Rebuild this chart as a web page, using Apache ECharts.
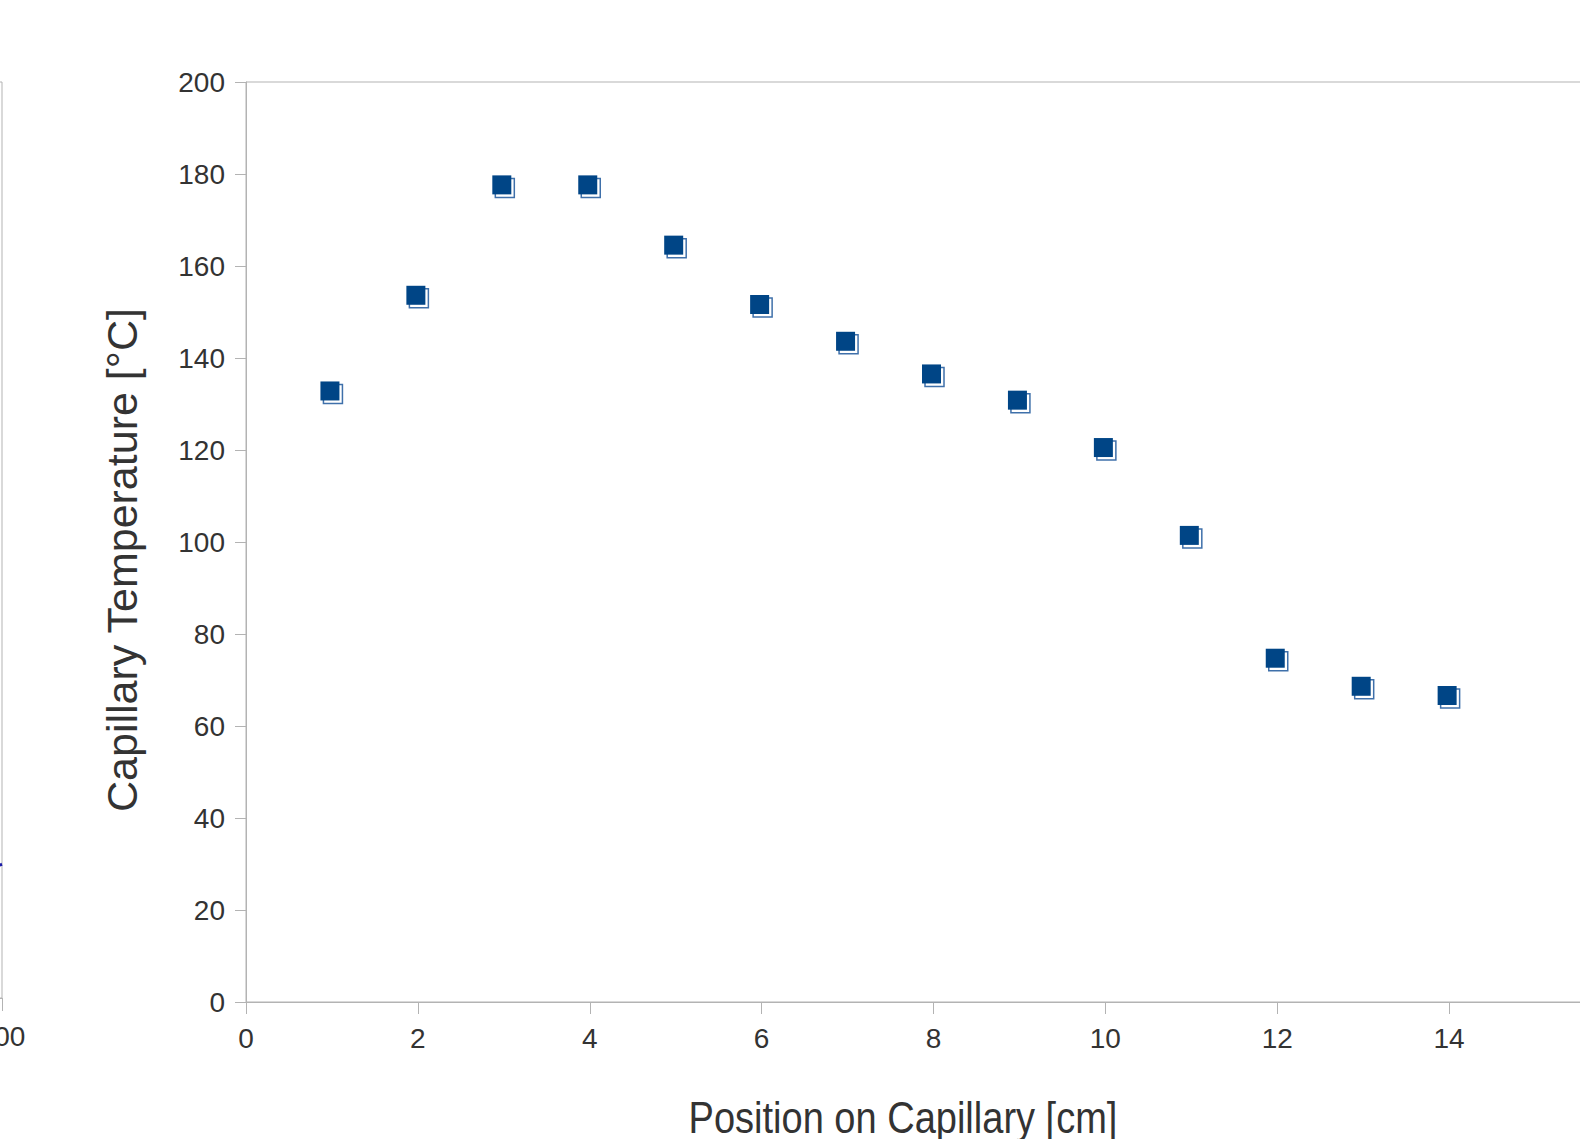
<!DOCTYPE html>
<html>
<head>
<meta charset="utf-8">
<script src="https://cdn.jsdelivr.net/npm/echarts@6/dist/echarts.min.js"></script>
<style>
  html, body { margin: 0; padding: 0; background: #ffffff; overflow: hidden; width: 1580px; height: 1139px; position: relative; }
  /* the chart canvas is wider than the window: the reference plot runs past the right edge
     and a neighbouring chart is cut at the left edge */
  #chart { position: absolute; left: -600px; top: 0; width: 2300px; height: 1139px; }
</style>
</head>
<body>
<div id="chart"></div>
<script>
// ---- data ----
const positions = [1, 2, 3, 4, 5, 6, 7, 8, 9, 10, 11, 12, 13, 14];
const temperatures = [132.4, 153.2, 177.2, 177.2, 164.1, 151.2, 143.2, 136.1, 130.4, 120.1, 101.0, 74.3, 68.2, 66.2];
const xTitle = 'Position on Capillary [cm]';
const yTitle = 'Capillary Temperature [°C]';
// fragment of the neighbouring chart visible at the left edge
const leftTraceX = [196, 200];
const leftTraceY = [28.4, 29.2];

const points = positions.map((x, i) => [x, temperatures[i]]);
const leftTrace = leftTraceX.map((x, i) => [x, leftTraceY[i]]);

const OFF = 600; // container offset (px) to the left of the window
const axisGray = '#b3b3b3';
const labelColor = '#333333';
const sans = "'Liberation Sans', Arial, sans-serif";

const chart = echarts.init(document.getElementById('chart'), null, { renderer: 'svg' });
chart.setOption({
  animation: false,
  backgroundColor: '#ffffff',
  grid: [
    { left: OFF + 246, top: 82, width: 1375, height: 920, show: true, borderColor: axisGray, borderWidth: 1, containLabel: false },
    { left: OFF - 498, top: 82, width: 500, height: 916, show: true, borderColor: axisGray, borderWidth: 1, containLabel: false }
  ],
  xAxis: [
    {
      gridIndex: 0, type: 'value', min: 0, max: 16, interval: 2,
      axisLine: { show: true, lineStyle: { color: axisGray, width: 1 } },
      axisTick: { show: true, inside: false, length: 12, lineStyle: { color: axisGray } },
      splitLine: { show: false },
      axisLabel: { margin: 22, color: labelColor, fontFamily: sans, fontSize: 28, showMaxLabel: false }
    },
    {
      gridIndex: 1, type: 'value', min: 0, max: 200, interval: 50,
      axisLine: { show: true, lineStyle: { color: axisGray, width: 1 } },
      axisTick: { show: true, inside: false, length: 13, lineStyle: { color: axisGray } },
      splitLine: { show: false },
      axisLabel: { margin: 24, color: labelColor, fontFamily: sans, fontSize: 28, showMaxLabel: true }
    }
  ],
  yAxis: [
    {
      gridIndex: 0, type: 'value', min: 0, max: 200, interval: 20,
      axisLine: { show: true, lineStyle: { color: axisGray, width: 1 } },
      axisTick: { show: true, inside: false, length: 11, lineStyle: { color: axisGray } },
      splitLine: { show: false },
      axisLabel: { margin: 21, color: labelColor, fontFamily: sans, fontSize: 28 }
    },
    {
      gridIndex: 1, type: 'value', min: 0, max: 200, interval: 20,
      axisLine: { show: true, lineStyle: { color: axisGray, width: 1 } },
      axisTick: { show: false },
      splitLine: { show: false },
      axisLabel: { show: false }
    }
  ],
  graphic: [
    {
      type: 'text', x: OFF + 122, y: 560, rotation: Math.PI / 2,
      style: { text: yTitle, fill: labelColor, font: "43px " + sans, align: 'center', verticalAlign: 'middle' }
    },
    {
      type: 'text', x: OFF + 903, y: 1117, scaleX: 0.845,
      style: { text: xTitle, fill: labelColor, font: "45px " + sans, align: 'center', verticalAlign: 'middle' }
    }
  ],
  series: [
    {
      name: 'shadow', type: 'scatter', xAxisIndex: 0, yAxisIndex: 0,
      data: points, symbol: 'rect', symbolSize: 19, symbolOffset: [1, 1],
      itemStyle: { color: '#ffffff', borderColor: '#3f70aa', borderWidth: 1.5, opacity: 1 },
      emphasis: { disabled: true }, z: 2
    },
    {
      name: 'Capillary Temperature', type: 'scatter', xAxisIndex: 0, yAxisIndex: 0,
      data: points, symbol: 'rect', symbolSize: 19, symbolOffset: [-2, -2],
      itemStyle: { color: '#004586', opacity: 1 },
      emphasis: { disabled: true }, z: 3
    },
    {
      name: 'left fragment', type: 'line', xAxisIndex: 1, yAxisIndex: 1,
      data: leftTrace, showSymbol: false, lineStyle: { color: '#1c1ca8', width: 3 }
    }
  ]
});
</script>
</body>
</html>
